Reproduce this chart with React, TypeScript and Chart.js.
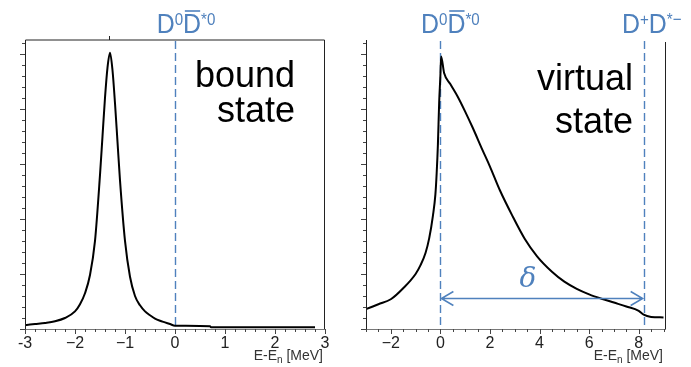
import React, { useEffect, useRef } from 'react';
import { Chart, registerables } from 'chart.js';

Chart.register(...registerables);

// ---------- data ----------
const boundX = [-3, -2.8, -2.6, -2.4, -2.2, -2.0, -1.9, -1.8, -1.7, -1.6, -1.5, -1.45, -1.4, -1.35, -1.3, -1.25, -1.2, -1.15, -1.1, -1.0, -0.9, -0.8, -0.7, -0.6, -0.5, -0.4, -0.3, -0.2, -0.1, 0, 0.7, 0.72, 2.8];
const boundY = [0.07, 0.09, 0.11, 0.14, 0.2, 0.32, 0.45, 0.65, 0.98, 1.6, 2.8, 3.5, 4.2, 4.75, 5.02, 4.7, 4.1, 3.4, 2.7, 1.6, 0.95, 0.6, 0.43, 0.32, 0.25, 0.19, 0.15, 0.12, 0.09, 0.06, 0.05, 0.03, 0.03];

const virtualX = [-3.0, -2.5, -2.0, -1.5, -1.0, -0.8, -0.6, -0.45, -0.3, -0.2, -0.15, -0.1, -0.05, 0.0, 0.03, 0.15, 0.4, 0.7, 1.0, 1.3, 1.7, 2.0, 2.4, 2.9, 3.4, 3.9, 4.5, 5.0, 5.5, 6.0, 6.5, 7.0, 7.5, 8.0, 8.2, 8.5, 9.0];
const virtualY = [0.36, 0.45, 0.54, 0.74, 1.0, 1.16, 1.38, 1.65, 2.06, 2.45, 2.83, 3.35, 4.1, 4.6, 4.95, 4.65, 4.45, 4.22, 3.95, 3.66, 3.25, 2.95, 2.52, 2.06, 1.64, 1.32, 1.04, 0.86, 0.73, 0.63, 0.55, 0.48, 0.41, 0.33, 0.26, 0.22, 0.21];

const leftTicks = [-3, -2, -1, 0, 1, 2, 3];
const leftTickLabels = ['-3', '\u22122', '\u22121', '0', '1', '2', '3'];
const rightTicks = [-2, 0, 2, 4, 6, 8];
const rightTickLabels = ['\u22122', '0', '2', '4', '6', '8'];

const leftThresholds = [0];
const rightThresholds = [0, 8.2];
const deltaArrow = { from: 0, to: 8.2, y: 0.56 };
const peakMark = -1.32;
const xTitle = ['E-E', 'n', ' [MeV]'];

const BLUE = '#4F81BD';
const FONT = "'Liberation Sans', Arial, sans-serif";

type Seg = { t: string; sup?: boolean; bar?: boolean };
const d0d0bar: Seg[] = [{ t: 'D' }, { t: '0', sup: true }, { t: 'D', bar: true }, { t: '*0', sup: true }];
const dpdm: Seg[] = [{ t: 'D' }, { t: '+', sup: true }, { t: 'D' }, { t: '*\u2212', sup: true }];

type Cfg = {
  xs: number[]; ys: number[];
  xMin: number; xMax: number;
  ticks: number[]; tickLabels: string[]; minorStep: number;
  leftW: number; padRight: number; width: number;
  topBorder: boolean;
  thresholds: number[];
  particleLabels: { v: number; dx: number; segs: Seg[] }[];
  stateLines: string[]; stateRight: number; stateBase: number[];
  arrow: boolean; peak: boolean;
  titleRight: number;
};

function drawParticle(ctx: CanvasRenderingContext2D, cx: number, base: number, segs: Seg[]) {
  const sx = 0.89;
  const mainF = `28px ${FONT}`;
  const supF = `17px ${FONT}`;
  let total = 0;
  const widths = segs.map((s) => {
    ctx.font = s.sup ? supF : mainF;
    const w = ctx.measureText(s.t).width;
    total += w;
    return w;
  });
  ctx.save();
  ctx.translate(cx - (total * sx) / 2, base);
  ctx.scale(sx, 1);
  ctx.fillStyle = BLUE;
  ctx.strokeStyle = BLUE;
  ctx.textAlign = 'left';
  ctx.textBaseline = 'alphabetic';
  let x = 0;
  segs.forEach((s, i) => {
    ctx.font = s.sup ? supF : mainF;
    ctx.fillText(s.t, x, s.sup ? -8 : 0);
    if (s.bar) {
      ctx.lineWidth = 1.6;
      ctx.beginPath();
      ctx.moveTo(x + 2, -22);
      ctx.lineTo(x + widths[i] - 1, -22);
      ctx.stroke();
    }
    x += widths[i];
  });
  ctx.restore();
}

function makePlugin(cfg: Cfg) {
  return {
    id: 'decor',
    beforeDatasetsDraw(chart: any) {
      const { ctx, chartArea, scales } = chart;
      const x = scales.x;
      ctx.save();
      ctx.strokeStyle = BLUE;
      ctx.lineWidth = 1.4;
      ctx.setLineDash([8, 4]);
      cfg.thresholds.forEach((v) => {
        const px = Math.round(x.getPixelForValue(v)) + 0.5;
        ctx.beginPath();
        ctx.moveTo(px, chartArea.top + 1);
        ctx.lineTo(px, chartArea.bottom);
        ctx.stroke();
      });
      ctx.restore();
    },
    afterDraw(chart: any) {
      const { ctx, chartArea, scales } = chart;
      const { left, right, top, bottom } = chartArea;
      const x = scales.x;
      const y = scales.y;
      ctx.save();
      // frame
      ctx.lineWidth = 1;
      ctx.strokeStyle = '#222';
      ctx.beginPath();
      ctx.moveTo(left + 0.5, bottom);
      ctx.lineTo(left + 0.5, top);
      if (cfg.topBorder) ctx.lineTo(right - 0.5, top);
      else ctx.moveTo(right - 0.5, top + 2);
      ctx.lineTo(right - 0.5, bottom);
      ctx.stroke();
      ctx.strokeStyle = '#777';
      ctx.beginPath();
      ctx.moveTo(left, bottom + 0.5);
      ctx.lineTo(right, bottom + 0.5);
      ctx.stroke();
      // y ticks
      ctx.strokeStyle = '#444';
      for (let i = 0; i <= 26; i++) {
        const py = Math.round(y.getPixelForValue(i / 5)) + 0.5;
        const len = i % 5 === 0 ? 5 : 3;
        ctx.beginPath();
        ctx.moveTo(left - len, py);
        ctx.lineTo(left, py);
        ctx.stroke();
      }
      // x ticks
      const nMinor = Math.round((cfg.xMax - cfg.xMin) / cfg.minorStep);
      const start = Math.ceil(cfg.xMin / cfg.minorStep);
      for (let i = start; i <= start + nMinor; i++) {
        const v = i * cfg.minorStep;
        if (v > cfg.xMax + 1e-9) break;
        const px = Math.round(x.getPixelForValue(v)) + 0.5;
        const isMajor = cfg.ticks.some((t) => Math.abs(t - v) < 1e-9);
        const len = isMajor ? 5 : 3;
        ctx.beginPath();
        ctx.moveTo(px, bottom);
        ctx.lineTo(px, bottom + len);
        ctx.stroke();
      }
      if (cfg.peak) {
        const px = Math.round(x.getPixelForValue(peakMark)) + 0.5;
        ctx.strokeStyle = '#222';
        ctx.beginPath();
        ctx.moveTo(px, top - 4);
        ctx.lineTo(px, top);
        ctx.stroke();
      }
      // axis title
      ctx.fillStyle = '#333';
      ctx.textBaseline = 'alphabetic';
      ctx.textAlign = 'left';
      const f1 = `14px ${FONT}`;
      const f2 = `10px ${FONT}`;
      ctx.font = f1;
      const w1 = ctx.measureText(xTitle[0]).width;
      const w3 = ctx.measureText(xTitle[2]).width;
      ctx.font = f2;
      const w2 = ctx.measureText(xTitle[1]).width;
      let tx = cfg.titleRight - (w1 + w2 + w3);
      const tb = 360;
      ctx.font = f1;
      ctx.fillText(xTitle[0], tx, tb);
      tx += w1;
      ctx.font = f2;
      ctx.fillText(xTitle[1], tx, tb + 3);
      tx += w2;
      ctx.font = f1;
      ctx.fillText(xTitle[2], tx, tb);
      // particle labels
      cfg.particleLabels.forEach((p) => {
        drawParticle(ctx, x.getPixelForValue(p.v) + p.dx, 33, p.segs);
      });
      // state text
      ctx.fillStyle = '#000';
      ctx.font = `36px ${FONT}`;
      ctx.textAlign = 'right';
      cfg.stateLines.forEach((s, i) => ctx.fillText(s, cfg.stateRight, cfg.stateBase[i]));
      // delta arrow
      if (cfg.arrow) {
        const x0 = x.getPixelForValue(deltaArrow.from);
        const x1 = x.getPixelForValue(deltaArrow.to);
        const ay = Math.round(y.getPixelForValue(deltaArrow.y)) + 0.5;
        ctx.strokeStyle = BLUE;
        ctx.lineWidth = 1.5;
        ctx.beginPath();
        ctx.moveTo(x0 + 1, ay);
        ctx.lineTo(x1 - 1, ay);
        ctx.moveTo(x0 + 13, ay - 7);
        ctx.lineTo(x0 + 1, ay);
        ctx.lineTo(x0 + 13, ay + 7);
        ctx.moveTo(x1 - 13, ay - 7);
        ctx.lineTo(x1 - 1, ay);
        ctx.lineTo(x1 - 13, ay + 7);
        ctx.stroke();
        ctx.fillStyle = BLUE;
        ctx.font = `italic 28px 'DejaVu Serif', serif`;
        ctx.textAlign = 'center';
        ctx.fillText('\u03B4', (x0 + x1) / 2 - 14, ay - 12);
      }
      ctx.restore();
    },
  };
}

function Panel({ cfg, left }: { cfg: Cfg; left: number }) {
  const ref = useRef<HTMLCanvasElement | null>(null);
  useEffect(() => {
    if (!ref.current) return;
    const chart = new Chart(ref.current, {
      type: 'line',
      data: {
        datasets: [
          {
            data: cfg.xs.map((v, i) => ({ x: v, y: cfg.ys[i] })),
            borderColor: '#000',
            borderWidth: 2,
            pointRadius: 0,
            fill: false,
            cubicInterpolationMode: 'monotone',
          },
        ],
      },
      options: {
        animation: false,
        responsive: false,
        devicePixelRatio: 1,
        layout: { padding: { top: 40, right: cfg.padRight, left: 0, bottom: 0 } },
        plugins: { legend: { display: false }, tooltip: { enabled: false } },
        scales: {
          x: {
            type: 'linear',
            min: cfg.xMin,
            max: cfg.xMax,
            afterFit: (s: any) => { s.height = 38; },
            afterBuildTicks: (s: any) => { s.ticks = cfg.ticks.map((v) => ({ value: v })); },
            grid: { display: false, drawTicks: false },
            border: { display: false },
            ticks: {
              autoSkip: false,
              maxRotation: 0,
              padding: 5,
              color: '#222',
              font: { family: FONT, size: 16 },
              callback: (_v: any, i: number) => cfg.tickLabels[i],
            },
          },
          y: {
            type: 'linear',
            min: 0,
            max: 5.25,
            afterFit: (s: any) => { s.width = cfg.leftW; },
            grid: { display: false, drawTicks: false },
            border: { display: false },
            ticks: { display: false },
          },
        },
      } as any,
      plugins: [makePlugin(cfg)],
    });
    return () => chart.destroy();
  }, [cfg]);
  return (
    <canvas
      ref={ref}
      width={cfg.width}
      height={367}
      style={{ position: 'absolute', left, top: 0, width: cfg.width, height: 367 }}
    />
  );
}

const leftCfg: Cfg = {
  xs: boundX, ys: boundY, xMin: -3, xMax: 3,
  ticks: leftTicks, tickLabels: leftTickLabels, minorStep: 0.2,
  leftW: 25, padRight: 20, width: 345, topBorder: true,
  thresholds: leftThresholds,
  particleLabels: [{ v: 0, dx: 11, segs: d0d0bar }],
  stateLines: ['bound', 'state'], stateRight: 295, stateBase: [87, 122],
  arrow: false, peak: true, titleRight: 323,
};

const rightCfg: Cfg = {
  xs: virtualX, ys: virtualY, xMin: -3, xMax: 9.1,
  ticks: rightTicks, tickLabels: rightTickLabels, minorStep: 0.5,
  leftW: 21, padRight: 25, width: 346, topBorder: false,
  thresholds: rightThresholds,
  particleLabels: [{ v: 0, dx: 10, segs: d0d0bar }, { v: 8.2, dx: 8, segs: dpdm }],
  stateLines: ['virtual', 'state'], stateRight: 288, stateBase: [90, 133],
  arrow: true, peak: false, titleRight: 318,
};

export default function App() {
  return (
    <div style={{ position: 'fixed', left: 0, top: 0, width: 691, height: 367, background: '#fff' }}>
      <Panel cfg={leftCfg} left={0} />
      <Panel cfg={rightCfg} left={345} />
    </div>
  );
}
